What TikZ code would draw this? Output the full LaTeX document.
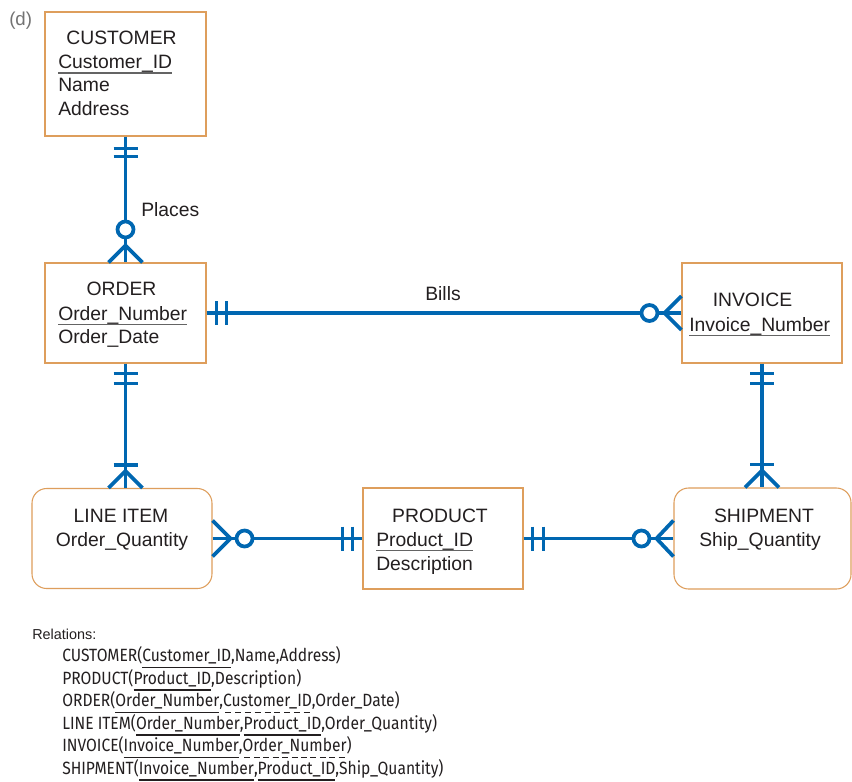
\documentclass[tikz,border=0pt]{standalone}
\usepackage{fontspec}
\setmainfont{Liberation Sans}
\newfontfamily\relfont[FakeStretch=0.88]{Fira Sans}
\usetikzlibrary{calc}
\definecolor{erblue}{RGB}{0,103,177}
\definecolor{erorange}{RGB}{222,158,92}
\definecolor{ertext}{RGB}{35,31,32}
\definecolor{ulgray}{RGB}{100,100,100}
\definecolor{dgray}{RGB}{115,115,115}
\newcommand\keyul[1]{{\setbox0\hbox{#1}\rlap{\textcolor{ulgray}{\rule[-0.28em]{\wd0}{0.075em}}}\box0}}
\newcommand\relpk[1]{{\setbox0\hbox{#1}\rlap{\rule[-0.37em]{\wd0}{0.065em}}\box0}}
\newcommand\relfk[1]{{\setbox0\hbox{#1}\rlap{\lower0.37em\hbox to\wd0{\xleaders\hbox{\kern0.09em\rule{0.34em}{0.065em}\kern0.09em}\hfil}}\box0}}
\tikzset{
  entity/.style={draw=erorange, line width=0.8pt, fill=white, inner sep=0pt},
  assoc/.style={entity, rounded corners=11pt},
  etext/.style={font=\fontsize{14.5}{17}\selectfont, text=ertext, inner sep=0pt, anchor=base},
  etextl/.style={etext, anchor=base west},
  rel/.style={draw=erblue, line width=2.8pt},
  reltext/.style={font=\relfont\fontsize{13.3}{15}\selectfont, text=ertext, anchor=base west, inner sep=0pt},
}
\begin{document}
\begin{tikzpicture}[x=0.75pt,y=-0.75pt]
\useasboundingbox (0,0) rectangle (852,781);
\fill[white] (0,0) rectangle (852,781);

\node[anchor=base west, inner sep=0pt, text=dgray, font=\fontsize{14}{16}\selectfont] (label) at (9,26) {(d)};

% entity boxes
\node[entity, minimum width=120.75pt, minimum height=93pt] (customer) at (125.5,74) {};
\node[entity, minimum width=120.75pt, minimum height=75pt] (order) at (125.5,313) {};
\node[entity, minimum width=120pt, minimum height=75pt] (invoice) at (762,313) {};
\node[assoc, minimum width=135pt, minimum height=75pt] (lineitem) at (122,538.5) {};
\node[entity, minimum width=120pt, minimum height=75.75pt] (product) at (443,538.5) {};
\node[assoc, minimum width=132.75pt, minimum height=75.75pt] (shipment) at (762.5,538.5) {};

% entity texts
\node[etext] (cu1) at (121.5,45) {CUSTOMER};
\node[etextl] (cu2) at (58,68.3) {\keyul{Customer\_ID}};
\node[etextl] (cu3) at (58,92) {Name};
\node[etextl] (cu4) at (58,115.3) {Address};

\node[etext] (or1) at (121.5,295.7) {ORDER};
\node[etextl] (or2) at (58,320) {\keyul{Order\_Number}};
\node[etextl] (or3) at (58,343.3) {Order\_Date};

\node[etext] (in1) at (752.5,306.7) {INVOICE};
\node[etextl] (in2) at (689,331) {\keyul{Invoice\_Number}};

\node[etext] (li1) at (121,522.3) {LINE ITEM};
\node[etext] (li2) at (122,546) {Order\_Quantity};

\node[etext] (pr1) at (440,522.3) {PRODUCT};
\node[etextl] (pr2) at (376,546) {\keyul{Product\_ID}};
\node[etextl] (pr3) at (376,570) {Description};

\node[etext] (sh1) at (764,522.3) {SHIPMENT};
\node[etext] (sh2) at (760,546) {Ship\_Quantity};

% relationship labels
\node[etextl] (places) at (141,216.7) {Places};
\node[etext] (bills) at (443,300) {Bills};

% CUSTOMER -- ORDER
\draw[rel] (customer.south) -- (order.north);
\draw[rel] ($(customer.south)+(-12,12)$) -- ($(customer.south)+(12,12)$);
\draw[rel] ($(customer.south)+(-12,20)$) -- ($(customer.south)+(12,20)$);
\draw[rel, fill=white] ($(order.north)+(0,-33)$) circle (6pt);
\draw[rel] ($(order.north)+(-17,0)$) -- ($(order.north)+(0,-17)$) -- ($(order.north)+(17,0)$);

% ORDER -- LINE ITEM
\coordinate (litop) at (order.south |- lineitem.north);
\draw[rel] (order.south) -- (litop);
\draw[rel] ($(order.south)+(-12,10)$) -- ($(order.south)+(12,10)$);
\draw[rel] ($(order.south)+(-12,20)$) -- ($(order.south)+(12,20)$);
\draw[rel] ($(litop)+(-12,-23)$) -- ($(litop)+(12,-23)$);
\draw[rel] ($(litop)+(-17,0)$) -- ($(litop)+(0,-17)$) -- ($(litop)+(17,0)$);

% ORDER -- INVOICE
\draw[rel] (order.east) -- (invoice.west);
\draw[rel] ($(order.east)+(10,-12)$) -- ($(order.east)+(10,12)$);
\draw[rel] ($(order.east)+(20,-12)$) -- ($(order.east)+(20,12)$);
\draw[rel, fill=white] ($(invoice.west)+(-32,0)$) circle (6pt);
\draw[rel] ($(invoice.west)+(0,-17)$) -- ($(invoice.west)+(-17,0)$) -- ($(invoice.west)+(0,17)$);

% INVOICE -- SHIPMENT
\coordinate (shtop) at (invoice.south |- shipment.north);
\draw[rel] (invoice.south) -- (shtop);
\draw[rel] ($(invoice.south)+(-12,10)$) -- ($(invoice.south)+(12,10)$);
\draw[rel] ($(invoice.south)+(-12,20)$) -- ($(invoice.south)+(12,20)$);
\draw[rel] ($(shtop)+(-12,-23)$) -- ($(shtop)+(12,-23)$);
\draw[rel] ($(shtop)+(-17,0)$) -- ($(shtop)+(0,-17)$) -- ($(shtop)+(17,0)$);

% LINE ITEM -- PRODUCT
\draw[rel] (lineitem.east) -- (lineitem.east -| product.west);
\draw[rel] ($(lineitem.east)+(0,-18)$) -- ($(lineitem.east)+(18,0)$) -- ($(lineitem.east)+(0,18)$);
\draw[rel, fill=white] ($(lineitem.east)+(32,0)$) circle (6pt);
\draw[rel] ($(product.west)+(-20,-12)$) -- ($(product.west)+(-20,12)$);
\draw[rel] ($(product.west)+(-10,-12)$) -- ($(product.west)+(-10,12)$);

% PRODUCT -- SHIPMENT
\draw[rel] (product.east) -- (product.east -| shipment.west);
\draw[rel] ($(product.east)+(9,-12)$) -- ($(product.east)+(9,12)$);
\draw[rel] ($(product.east)+(20,-12)$) -- ($(product.east)+(20,12)$);
\draw[rel, fill=white] ($(shipment.west)+(-32,0)$) circle (6pt);
\draw[rel] ($(shipment.west)+(0,-18)$) -- ($(shipment.west)+(-17,0)$) -- ($(shipment.west)+(0,18)$);

% relations
\node[anchor=base west, inner sep=0pt, text=ertext, font=\fontsize{10.8}{13}\selectfont] (relhead) at (32,639) {Relations:};
\node[reltext] (r1) at (62,661.7) {CUSTOMER(\relpk{Customer\_ID},Name,Address)};
\node[reltext] (r2) at (62,684) {PRODUCT(\relpk{Product\_ID},Description)};
\node[reltext] (r3) at (62,706.7) {ORDER(\relpk{Order\_Number},\relfk{Customer\_ID},Order\_Date)};
\node[reltext] (r4) at (62,729) {LINE ITEM(\relpk{Order\_Number},\relpk{Product\_ID},Order\_Quantity)};
\node[reltext] (r5) at (62,751.5) {INVOICE(\relpk{Invoice\_Number},\relfk{Order\_Number})};
\node[reltext] (r6) at (62,774) {SHIPMENT(\relpk{Invoice\_Number},\relpk{Product\_ID},Ship\_Quantity)};
\end{tikzpicture}
\end{document}
